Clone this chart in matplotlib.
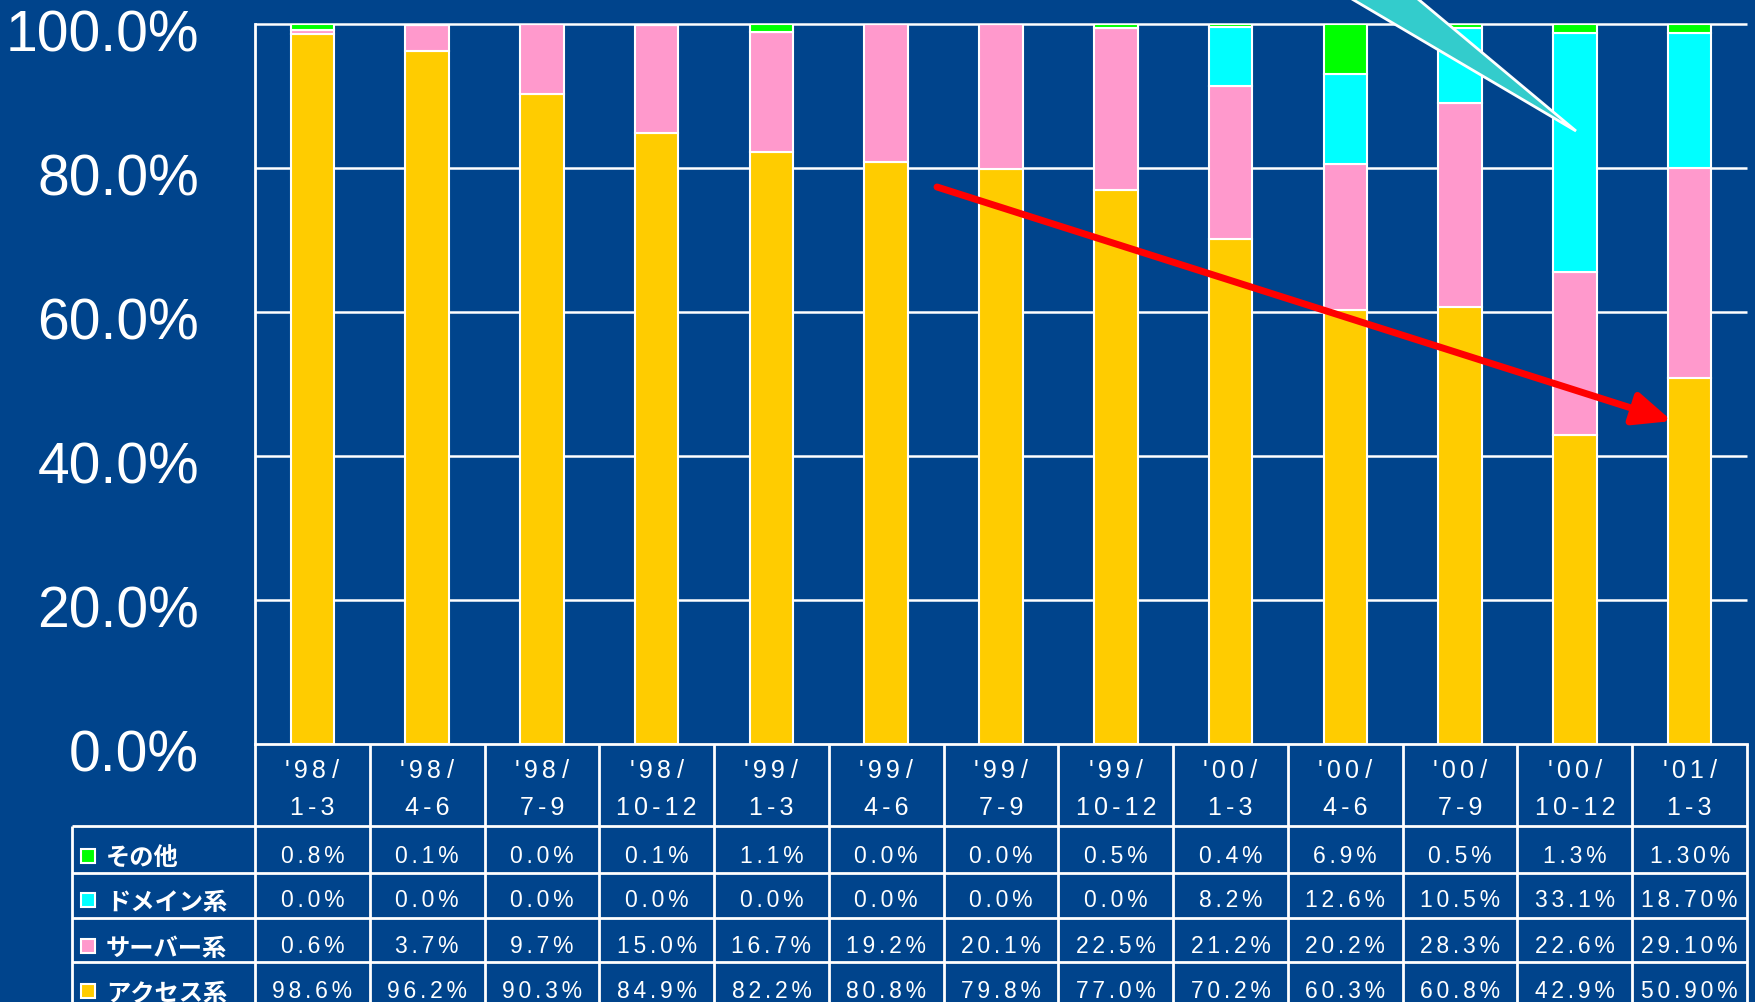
import matplotlib
matplotlib.use("Agg")
import matplotlib.pyplot as plt
from matplotlib import transforms
from matplotlib.patches import Polygon, Rectangle, FancyArrowPatch

# data
years = ["'98", "'98", "'98", "'98", "'99", "'99", "'99", "'99", "'00", "'00", "'00", "'00", "'01"]
months = ["1-3", "4-6", "7-9", "10-12", "1-3", "4-6", "7-9", "10-12", "1-3", "4-6", "7-9", "10-12", "1-3"]

row_names = ["その他", "ドメイン系", "サーバー系", "アクセス系"]
sonota = ["0.8%", "0.1%", "0.0%", "0.1%", "1.1%", "0.0%", "0.0%", "0.5%", "0.4%", "6.9%", "0.5%", "1.3%", "1.30%"]
domain = ["0.0%", "0.0%", "0.0%", "0.0%", "0.0%", "0.0%", "0.0%", "0.0%", "8.2%", "12.6%", "10.5%", "33.1%", "18.70%"]
server = ["0.6%", "3.7%", "9.7%", "15.0%", "16.7%", "19.2%", "20.1%", "22.5%", "21.2%", "20.2%", "28.3%", "22.6%", "29.10%"]
access = ["98.6%", "96.2%", "90.3%", "84.9%", "82.2%", "80.8%", "79.8%", "77.0%", "70.2%", "60.3%", "60.8%", "42.9%", "50.90%"]

row_colors = ["#00FF00", "#00FFFF", "#FF99CC", "#FFCC00"]
bg = "#00448C"

W, H = 1756, 1003


def num(lst):
    return [float(s.rstrip("%")) for s in lst]


def spaced(s, sp="\u2006"):
    # wide letter spacing like the original
    return sp.join(s)


fig = plt.figure(figsize=(W / 100, H / 100), dpi=100, facecolor=bg)
plt.rcParams["font.family"] = ["Liberation Sans", "DejaVu Sans"]

ax = fig.add_axes([255 / W, 1 - 745 / H, (1747 - 255) / W, 720 / H])
ax.set_facecolor(bg)
ax.set_xlim(-0.5, 12.5)
ax.set_ylim(0, 100)
for s in ["top", "right"]:
    ax.spines[s].set_visible(False)
for s in ["left", "bottom"]:
    ax.spines[s].set_color("white")
    ax.spines[s].set_linewidth(2)
ax.set_xticks([])
ax.set_yticks([])

yt = [0, 20, 40, 60, 80, 100]
ax.hlines(yt[1:], -0.5, 12.5, color="white", lw=1.8, zorder=0.5, clip_on=False)
lab_tr = ax.get_yaxis_transform() + transforms.ScaledTranslation(-56 / 100, -12 / 100, fig.dpi_scale_trans)
for v in yt:
    ax.text(0, v, f"{v:.1f}%", transform=lab_tr, ha="right", va="center",
            fontsize=41, color="white")

# 100% stacked bars
stack = [num(access), num(server), num(domain), num(sonota)]
stack_colors = [row_colors[3], row_colors[2], row_colors[1], row_colors[0]]
totals = [sum(col) for col in zip(*stack)]
x = list(range(len(years)))
bottom = [0.0] * len(x)
for vals, c in zip(stack, stack_colors):
    h = [v / t * 100 for v, t in zip(vals, totals)]
    ax.bar(x, h, width=0.38, bottom=bottom, color=c, edgecolor="white", lw=1.5, zorder=2)
    bottom = [b + hh for b, hh in zip(bottom, h)]

# overlay in pixel coords for the table and the drawings
ov = fig.add_axes([0, 0, 1, 1], zorder=5)
ov.set_xlim(0, W)
ov.set_ylim(H, 0)
ov.axis("off")
ov.patch.set_alpha(0)
blend = transforms.blended_transform_factory(ax.transData, ov.transData)

# table grid
row_lines = [827, 874, 919, 963]
ov.hlines(row_lines, 72, 1747, color="white", lw=2)
ov.vlines([k - 0.5 for k in range(len(x) + 1)], 745, 1010, color="white", lw=2, transform=blend)
ov.vlines([72], 827, 1010, color="white", lw=2)

for i in x:
    ov.text(i, 771, spaced(years[i]) + "\u2006\u200a/", transform=blend, ha="center", va="center",
            fontsize=18, color="white")
    ov.text(i, 808, spaced(months[i]), transform=blend, ha="center", va="center",
            fontsize=18, color="white")

row_y = [857, 901, 947, 992]
for name, vals, c, y in zip(row_names, [sonota, domain, server, access], row_colors, row_y):
    ov.add_patch(Rectangle((81, y - 7), 14, 14, facecolor=c, edgecolor="white", lw=1.5))
    ov.text(106, y + 2, name, ha="left", va="center", fontsize=17.5, fontweight="bold",
            color="white", family=["Noto Sans CJK JP", "DejaVu Sans"])
    for i, s in enumerate(vals):
        ov.text(i, y, spaced(s), transform=blend, ha="center", va="center",
                fontsize=16.5, color="white")

# callout wedge from above
ov.add_patch(Polygon([(1335, -10), (1406, -10), (1576, 132)], closed=True,
                     facecolor="#33CCCC", edgecolor="white", lw=2, clip_on=False))

# red trend arrow
ov.add_patch(FancyArrowPatch((937, 188), (1672, 422),
                             arrowstyle="-|>,head_length=1.15,head_width=0.5",
                             mutation_scale=20, color="#FF0000", lw=5, capstyle="round",
                             shrinkA=0, shrinkB=0))

fig.savefig("out.png", dpi=100, facecolor=bg)
